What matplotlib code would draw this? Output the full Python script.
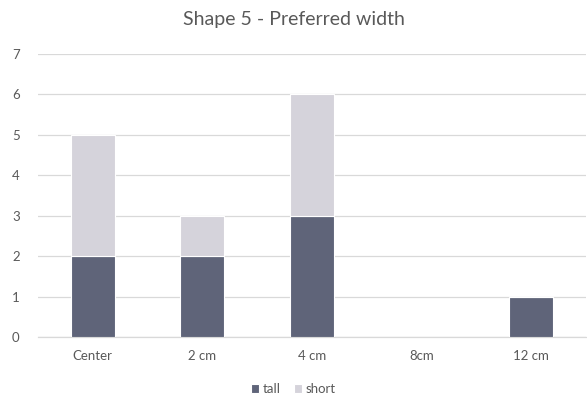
import matplotlib
matplotlib.use("Agg")
import matplotlib.pyplot as plt
import numpy as np

plt.rcParams['font.family'] = ['Lato', 'DejaVu Sans']

categories = ["Center", "2 cm", "4 cm", "8cm", "12 cm"]
tall = [2, 2, 3, 0, 1]
short = [3, 1, 3, 0, 0]

tall_color = "#5f6479"
short_color = "#d5d3db"
text_color = "#595959"
grid_color = "#d9d9d9"

fig = plt.figure(figsize=(5.87, 3.96), dpi=100)
ax = fig.add_axes([38 / 587, 1 - 337 / 396, 548 / 587, (337 - 54) / 396])

x = np.arange(len(categories))
ax.bar(x, tall, width=0.4, color=tall_color, edgecolor="white", linewidth=0.8,
       label="tall", zorder=3)
ax.bar(x, short, width=0.4, bottom=tall, color=short_color, edgecolor="white",
       linewidth=0.8, label="short", zorder=3)

ax.set_xlim(-0.5, len(categories) - 0.5)
ax.set_ylim(0, 7)
ax.set_yticks(range(0, 8))
ax.set_xticks(x)
ax.set_xticklabels(categories)
ax.tick_params(axis="both", length=0, labelsize=9.5, colors=text_color)
ax.tick_params(axis="x", pad=9)
ax.tick_params(axis="y", pad=16)
for lbl in ax.get_yticklabels():
    lbl.set_horizontalalignment("center")

ax.grid(axis="y", color=grid_color, linewidth=0.9, zorder=0)
for side in ["top", "right", "left"]:
    ax.spines[side].set_visible(False)
ax.spines["bottom"].set_color(grid_color)
ax.spines["bottom"].set_linewidth(0.9)

fig.text(0.5, 1 - 19 / 396, "Shape 5 - Preferred width", ha="center", va="center",
         fontsize=14, color=text_color)

leg = fig.legend(loc="center", bbox_to_anchor=(0.5, 1 - 389 / 396), ncol=2,
                 frameon=False, fontsize=9.5, handlelength=0.6, handleheight=0.6,
                 handletextpad=0.3, columnspacing=1.0)
for t in leg.get_texts():
    t.set_color(text_color)

fig.savefig("out.png", dpi=100)
